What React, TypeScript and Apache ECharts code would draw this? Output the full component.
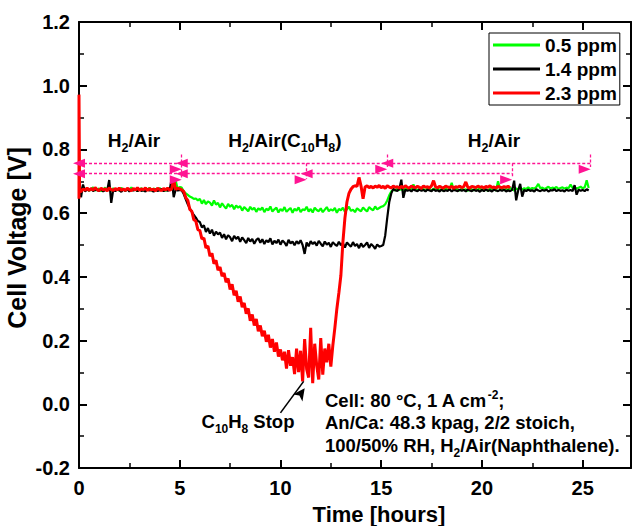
import React, { useEffect, useRef } from 'react';
import * as echarts from 'echarts';

const FONT = "'Liberation Sans', Arial, Helvetica, sans-serif";

// Logged cell voltage, one reading every 0.1 h starting at t = 0.1 h
const SAMPLE_STEP_H = 0.1;

const SERIES_NAMES = ['0.5 ppm', '1.4 ppm', '2.3 ppm'];
const SERIES_COLORS = ['#00ff00', '#000000', '#ff0000'];

// Start-up readings (t < 0.1 h)
const START_05: number[][] = [[0, 0.7]];
const START_14: number[][] = [[0, 0.72]];
const START_23: number[][] = [[0, 0.645], [0, 0.972], [0.03, 0.668]];

// 0.5 ppm naphthalene, V
const V_05 = [
  0.668, 0.676, 0.672, 0.679, 0.670, 0.675, 0.681, 0.671, 0.674,
  0.677, 0.669, 0.675, 0.680, 0.672, 0.676, 0.670, 0.678, 0.673, 0.675,
  0.671, 0.679, 0.674, 0.670, 0.677, 0.673, 0.681, 0.672, 0.676, 0.669,
  0.675, 0.678, 0.671, 0.676, 0.673, 0.680, 0.670, 0.677, 0.674, 0.672,
  0.679, 0.673, 0.676, 0.670, 0.678, 0.674, 0.681, 0.675, 0.702, 0.676,
  0.682, 0.680, 0.668, 0.662, 0.657, 0.652, 0.649, 0.645, 0.646, 0.640,
  0.645, 0.630, 0.641, 0.628, 0.637, 0.633, 0.624, 0.640, 0.627, 0.632,
  0.618, 0.631, 0.622, 0.614, 0.629, 0.620, 0.626, 0.612, 0.624, 0.617,
  0.622, 0.608, 0.619, 0.613, 0.606, 0.620, 0.611, 0.617, 0.604, 0.615,
  0.610, 0.618, 0.603, 0.614, 0.609, 0.621, 0.605, 0.612, 0.617, 0.602,
  0.613, 0.607, 0.619, 0.604, 0.611, 0.616, 0.601, 0.614, 0.608, 0.618,
  0.603, 0.612, 0.609, 0.620, 0.605, 0.613, 0.602, 0.617, 0.610, 0.606,
  0.615, 0.603, 0.611, 0.619, 0.606, 0.612, 0.608, 0.616, 0.601, 0.613,
  0.609, 0.617, 0.604, 0.612, 0.620, 0.607, 0.611, 0.603, 0.615, 0.610,
  0.606, 0.618, 0.611, 0.605, 0.619, 0.613, 0.609, 0.621, 0.612, 0.616,
  0.620, 0.622, 0.628, 0.640, 0.656, 0.668, 0.674, 0.671, 0.677, 0.673,
  0.676, 0.670, 0.678, 0.673, 0.675, 0.671, 0.690, 0.674, 0.672, 0.677,
  0.673, 0.676, 0.670, 0.678, 0.674, 0.671, 0.677, 0.673, 0.679, 0.672,
  0.675, 0.670, 0.677, 0.673, 0.676, 0.695, 0.672, 0.678, 0.674, 0.671,
  0.677, 0.673, 0.675, 0.670, 0.678, 0.674, 0.672, 0.676, 0.673, 0.679,
  0.672, 0.676, 0.674, 0.670, 0.677, 0.673, 0.675, 0.671, 0.700, 0.674,
  0.677, 0.672, 0.676, 0.673, 0.679, 0.674, 0.671, 0.677, 0.675, 0.680,
  0.674, 0.678, 0.676, 0.681, 0.675, 0.679, 0.677, 0.682, 0.692, 0.678,
  0.680, 0.676, 0.679, 0.683, 0.677, 0.680, 0.678, 0.682, 0.676, 0.679,
  0.681, 0.677, 0.680, 0.678, 0.690, 0.679, 0.682, 0.677, 0.680, 0.683,
  0.678, 0.681, 0.703, 0.679,
];

// 1.4 ppm naphthalene, V
const V_14 = [
  0.650, 0.690, 0.668, 0.675, 0.671, 0.677, 0.669, 0.674, 0.672,
  0.670, 0.676, 0.668, 0.673, 0.671, 0.704, 0.632, 0.674, 0.669, 0.675,
  0.672, 0.667, 0.674, 0.670, 0.676, 0.668, 0.673, 0.671, 0.675, 0.669,
  0.674, 0.670, 0.672, 0.668, 0.676, 0.671, 0.673, 0.667, 0.675, 0.670,
  0.672, 0.676, 0.669, 0.674, 0.670, 0.673, 0.708, 0.650, 0.675, 0.671,
  0.673, 0.671, 0.660, 0.643, 0.628, 0.615, 0.604, 0.594, 0.586, 0.575,
  0.572, 0.555, 0.562, 0.541, 0.553, 0.536, 0.548, 0.529, 0.542, 0.533,
  0.539, 0.522, 0.534, 0.518, 0.531, 0.524, 0.512, 0.529, 0.519, 0.526,
  0.510, 0.524, 0.515, 0.506, 0.522, 0.511, 0.519, 0.504, 0.516, 0.521,
  0.507, 0.518, 0.503, 0.515, 0.509, 0.521, 0.502, 0.513, 0.506, 0.517,
  0.501, 0.514, 0.508, 0.497, 0.516, 0.505, 0.511, 0.499, 0.512, 0.504,
  0.515, 0.500, 0.472, 0.508, 0.496, 0.512, 0.503, 0.509, 0.498, 0.513,
  0.504, 0.496, 0.511, 0.501, 0.507, 0.494, 0.509, 0.502, 0.497, 0.510,
  0.499, 0.506, 0.492, 0.508, 0.501, 0.495, 0.509, 0.497, 0.503, 0.490,
  0.505, 0.494, 0.500, 0.508, 0.491, 0.503, 0.497, 0.488, 0.502, 0.495,
  0.497, 0.500, 0.530, 0.585, 0.635, 0.662, 0.676, 0.672, 0.670, 0.676,
  0.705, 0.648, 0.674, 0.670, 0.673, 0.668, 0.675, 0.671, 0.669, 0.674,
  0.670, 0.673, 0.668, 0.674, 0.671, 0.669, 0.675, 0.670, 0.672, 0.668,
  0.674, 0.669, 0.672, 0.670, 0.675, 0.668, 0.673, 0.671, 0.669, 0.674,
  0.670, 0.673, 0.668, 0.675, 0.671, 0.669, 0.674, 0.670, 0.672, 0.667,
  0.673, 0.669, 0.675, 0.670, 0.672, 0.668, 0.674, 0.671, 0.669, 0.673,
  0.670, 0.674, 0.668, 0.672, 0.669, 0.673, 0.702, 0.640, 0.671, 0.692,
  0.652, 0.673, 0.669, 0.674, 0.670, 0.672, 0.668, 0.675, 0.671, 0.669,
  0.673, 0.670, 0.674, 0.668, 0.672, 0.671, 0.675, 0.669, 0.673, 0.670,
  0.672, 0.668, 0.674, 0.670, 0.673, 0.669, 0.688, 0.658, 0.674, 0.670,
  0.673, 0.669, 0.675, 0.671,
];

// 2.3 ppm naphthalene, V (feed stopped at ~11.3 h)
const V_23 = [
  0.668, 0.676, 0.672, 0.679, 0.671, 0.677, 0.673, 0.680, 0.674,
  0.671, 0.678, 0.673, 0.676, 0.670, 0.679, 0.674, 0.672, 0.677, 0.673,
  0.679, 0.672, 0.676, 0.671, 0.678, 0.674, 0.670, 0.677, 0.673, 0.680,
  0.672, 0.676, 0.674, 0.679, 0.671, 0.677, 0.673, 0.675, 0.670, 0.678,
  0.674, 0.671, 0.677, 0.673, 0.679, 0.672, 0.676, 0.705, 0.674, 0.678,
  0.676, 0.673, 0.668, 0.649, 0.640, 0.612, 0.606, 0.579, 0.575, 0.548,
  0.545, 0.519, 0.522, 0.491, 0.497, 0.465, 0.474, 0.441, 0.452, 0.421,
  0.431, 0.402, 0.412, 0.383, 0.395, 0.360, 0.377, 0.342, 0.356, 0.322,
  0.338, 0.305, 0.318, 0.284, 0.301, 0.262, 0.282, 0.247, 0.268, 0.229,
  0.247, 0.214, 0.231, 0.196, 0.218, 0.178, 0.205, 0.165, 0.194, 0.150,
  0.172, 0.138, 0.165, 0.112, 0.170, 0.121, 0.148, 0.095, 0.175, 0.101,
  0.168, 0.072, 0.205, 0.110, 0.084, 0.240, 0.066, 0.190, 0.121, 0.078,
  0.208, 0.093, 0.175, 0.132, 0.190, 0.118, 0.185, 0.240, 0.300, 0.350,
  0.405, 0.510, 0.585, 0.635, 0.662, 0.675, 0.683, 0.686, 0.684, 0.712,
  0.685, 0.645, 0.682, 0.686, 0.680, 0.684, 0.679, 0.685, 0.681, 0.687,
  0.680, 0.684, 0.678, 0.686, 0.682, 0.679, 0.685, 0.681, 0.683, 0.679,
  0.684, 0.680, 0.686, 0.681, 0.679, 0.685, 0.682, 0.680, 0.684, 0.681,
  0.678, 0.685, 0.681, 0.683, 0.679, 0.686, 0.702, 0.682, 0.680, 0.684,
  0.681, 0.679, 0.685, 0.682, 0.680, 0.684, 0.678, 0.683, 0.681, 0.685,
  0.680, 0.683, 0.698, 0.681, 0.679, 0.684, 0.682, 0.680, 0.685, 0.681,
  0.683, 0.679, 0.684, 0.681, 0.686, 0.680, 0.682, 0.679, 0.684, 0.681,
  0.680, 0.683, 0.681, 0.684, 0.680,
];

// Axis ranges and ticks
const X_MIN = 0;
const X_MAX = 27.4;
const X_MAJOR = 5;
const X_MINOR = 2.5;
const Y_MIN = -0.2;
const Y_MAX = 1.2;
const Y_MAJOR = 0.2;

// Gas-feed phases: double-headed arrows between boundaries (hours) at a voltage level
const PHASE_ROWS = [
  { level: 0.757, bounds: [0, 5.1, 15.3, 25.4] },
  { level: 0.724, bounds: [0, 5.1, 11.3, 21.5] },
];
// Short vertical markers at phase boundaries
const PHASE_MARKERS = [
  { t: 5.1, top: 0.784, bottom: 0.712 },
  { t: 15.3, top: 0.784, bottom: 0.745 },
  { t: 25.4, top: 0.784, bottom: 0.745 },
  { t: 11.3, top: 0.757, bottom: 0.707 },
  { t: 21.5, top: 0.757, bottom: 0.712 },
];
// Arrow pointing at the naphthalene stop
const STOP_ARROW = { from: [10.0, -0.027], to: [11.15, 0.072] };

const PINK = '#ff1493';

const buildSeries = (start: number[][], values: number[]) => [
  ...start,
  ...values.map((v, i) => [Number(((i + 1) * SAMPLE_STEP_H).toFixed(1)), v]),
];

const richMain = (size: number, lh: number) => ({
  fontFamily: FONT,
  fontWeight: 'bold' as const,
  fontSize: size,
  lineHeight: lh,
  color: '#000',
  verticalAlign: 'middle' as const,
});
const richSub = (size: number, lh: number, down: number) => ({
  ...richMain(size, lh),
  padding: [down, 0, 0, 0],
});
const richSup = (size: number, lh: number, up: number) => ({
  ...richMain(size, lh),
  padding: [0, 0, up, 0],
});

export default function App() {
  const ref = useRef<HTMLDivElement>(null);

  useEffect(() => {
    if (!ref.current) return;
    const chart = echarts.init(ref.current, null, { renderer: 'svg' });

    const pinkDash = { color: PINK, type: [3, 2], width: 1.3 };
    const phaseLines: any[] = [];
    PHASE_ROWS.forEach((row) => {
      for (let i = 0; i < row.bounds.length - 1; i++) {
        phaseLines.push([
          { coord: [row.bounds[i], row.level], lineStyle: pinkDash },
          { coord: [row.bounds[i + 1], row.level], lineStyle: pinkDash },
        ]);
      }
    });
    PHASE_MARKERS.forEach((m) => {
      phaseLines.push([
        { coord: [m.t, m.top], symbol: 'none', lineStyle: pinkDash },
        { coord: [m.t, m.bottom], symbol: 'none', lineStyle: pinkDash },
      ]);
    });

    const tickLabel = {
      fontFamily: FONT,
      fontWeight: 'bold' as const,
      fontSize: 20,
      color: '#000',
    };
    const axisLine = { show: true, onZero: false, lineStyle: { color: '#000', width: 2 } };
    const majorTick = { show: true, inside: true, length: 8, lineStyle: { color: '#000', width: 2 } };
    const minorTickCfg = { show: true, splitNumber: 2, length: 5, lineStyle: { color: '#000', width: 1.5 } };

    const xMain = (position: 'bottom' | 'top', labels: boolean) => ({
      type: 'value',
      position,
      min: X_MIN,
      max: X_MAX,
      interval: X_MAJOR,
      axisLine,
      axisTick: majorTick,
      axisLabel: {
        show: labels,
        ...tickLabel,
        margin: 10,
        showMaxLabel: false,
        formatter: (v: number) => String(v),
      },
      splitLine: { show: false },
    });
    const xMinor = (position: 'bottom' | 'top') => ({
      type: 'value',
      position,
      min: X_MIN,
      max: X_MAX,
      interval: X_MINOR,
      axisLine: { show: false, onZero: false },
      axisTick: { show: true, inside: true, length: 5, lineStyle: { color: '#000', width: 1.5 } },
      axisLabel: { show: false },
      splitLine: { show: false },
    });
    const yAxis = (position: 'left' | 'right', labels: boolean) => ({
      type: 'value',
      position,
      min: Y_MIN,
      max: Y_MAX,
      interval: Y_MAJOR,
      axisLine,
      axisTick: majorTick,
      minorTick: minorTickCfg,
      axisLabel: {
        show: labels,
        ...tickLabel,
        margin: 9,
        formatter: (v: number) => v.toFixed(1),
      },
      splitLine: { show: false },
    });

    const dataSets = [
      buildSeries(START_05, V_05),
      buildSeries(START_14, V_14),
      buildSeries(START_23, V_23),
    ];
    const widths = [2.2, 2.2, 3];

    const series: any[] = dataSets.map((d, i) => ({
      name: SERIES_NAMES[i],
      type: 'line',
      data: d,
      showSymbol: false,
      symbol: 'none',
      color: SERIES_COLORS[i],
      lineStyle: { color: SERIES_COLORS[i], width: widths[i], join: 'bevel' },
      emphasis: { disabled: true },
      silent: true,
      clip: true,
      z: 2 + i,
    }));
    // Arrow to the naphthalene stop point
    series[1].markLine = {
      silent: true,
      animation: false,
      symbol: ['none', 'arrow'],
      symbolSize: [9, 12],
      symbolOffset: [0, 5],
      label: { show: false },
      emphasis: { disabled: true },
      lineStyle: { color: '#000', type: 'solid', width: 1.6 },
      itemStyle: { color: '#000' },
      data: [[{ coord: STOP_ARROW.from }, { coord: STOP_ARROW.to }]],
    };
    // Feed-phase arrows
    series[2].markLine = {
      silent: true,
      animation: false,
      symbol: ['triangle', 'triangle'],
      symbolSize: [9, 12],
      symbolOffset: [0, 6],
      label: { show: false },
      emphasis: { disabled: true },
      lineStyle: pinkDash,
      itemStyle: { color: PINK },
      data: phaseLines,
    };

    const r19 = {
      n: richMain(19, 24),
      s: richSub(12.5, 24, 16),
    };
    const r185 = {
      n: richMain(18.5, 22.5),
      s: richSub(12, 22.5, 15),
      u: richSup(12, 22.5, 11),
    };

    const graphic: any[] = [
      {
        type: 'text',
        x: 134,
        y: 140,
        style: { text: '{n|H}{s|2}{n|/Air}', rich: r19, align: 'center', verticalAlign: 'middle' },
      },
      {
        type: 'text',
        x: 285,
        y: 140,
        style: {
          text: '{n|H}{s|2}{n|/Air(C}{s|10}{n|H}{s|8}{n|)}',
          rich: r19,
          align: 'center',
          verticalAlign: 'middle',
        },
      },
      {
        type: 'text',
        x: 494,
        y: 140,
        style: { text: '{n|H}{s|2}{n|/Air}', rich: r19, align: 'center', verticalAlign: 'middle' },
      },
      {
        type: 'text',
        x: 248,
        y: 421,
        style: {
          text: '{n|C}{s|10}{n|H}{s|8}{n| Stop}',
          rich: r185,
          align: 'center',
          verticalAlign: 'middle',
        },
      },
      {
        type: 'text',
        x: 325,
        y: 389,
        style: {
          text:
            '{n|Cell: 80 °C, 1 A cm}{u|-2}{n|;}\n' +
            '{n|An/Ca: 48.3 kpag, 2/2 stoich,}\n' +
            '{n|100/50% RH, H}{s|2}{n|/Air(Naphthalene).}',
          rich: r185,
          align: 'left',
          verticalAlign: 'top',
        },
      },
      {
        type: 'text',
        x: 379,
        y: 514,
        style: {
          text: 'Time [hours]',
          fontFamily: FONT,
          fontWeight: 'bold',
          fontSize: 22,
          fill: '#000',
          align: 'center',
          verticalAlign: 'middle',
        },
      },
      {
        type: 'text',
        x: 17,
        y: 238,
        rotation: Math.PI / 2,
        style: {
          text: 'Cell Voltage [V]',
          fontFamily: FONT,
          fontWeight: 'bold',
          fontSize: 25,
          fill: '#000',
          align: 'center',
          verticalAlign: 'middle',
        },
      },
    ];

    chart.setOption({
      animation: false,
      backgroundColor: '#fff',
      grid: { left: 79, top: 22, width: 552, height: 446, containLabel: false },
      xAxis: [xMain('bottom', true), xMain('top', false), xMinor('bottom'), xMinor('top')],
      yAxis: [yAxis('left', true), yAxis('right', false)],
      legend: {
        data: SERIES_NAMES,
        left: 489,
        top: 33,
        orient: 'vertical',
        icon: 'rect',
        itemWidth: 47,
        itemHeight: 3,
        itemGap: 2,
        padding: [1, 3, 1, 4],
        borderColor: '#000',
        borderWidth: 1,
        backgroundColor: '#fff',
        selectedMode: false,
        textStyle: {
          fontFamily: FONT,
          fontWeight: 'bold',
          fontSize: 19,
          color: '#000',
          lineHeight: 22,
        },
      },
      series,
      graphic,
    });

    return () => chart.dispose();
  }, []);

  return (
    <div
      ref={ref}
      style={{ position: 'fixed', left: 0, top: 0, width: 632, height: 526, background: '#fff' }}
    />
  );
}
